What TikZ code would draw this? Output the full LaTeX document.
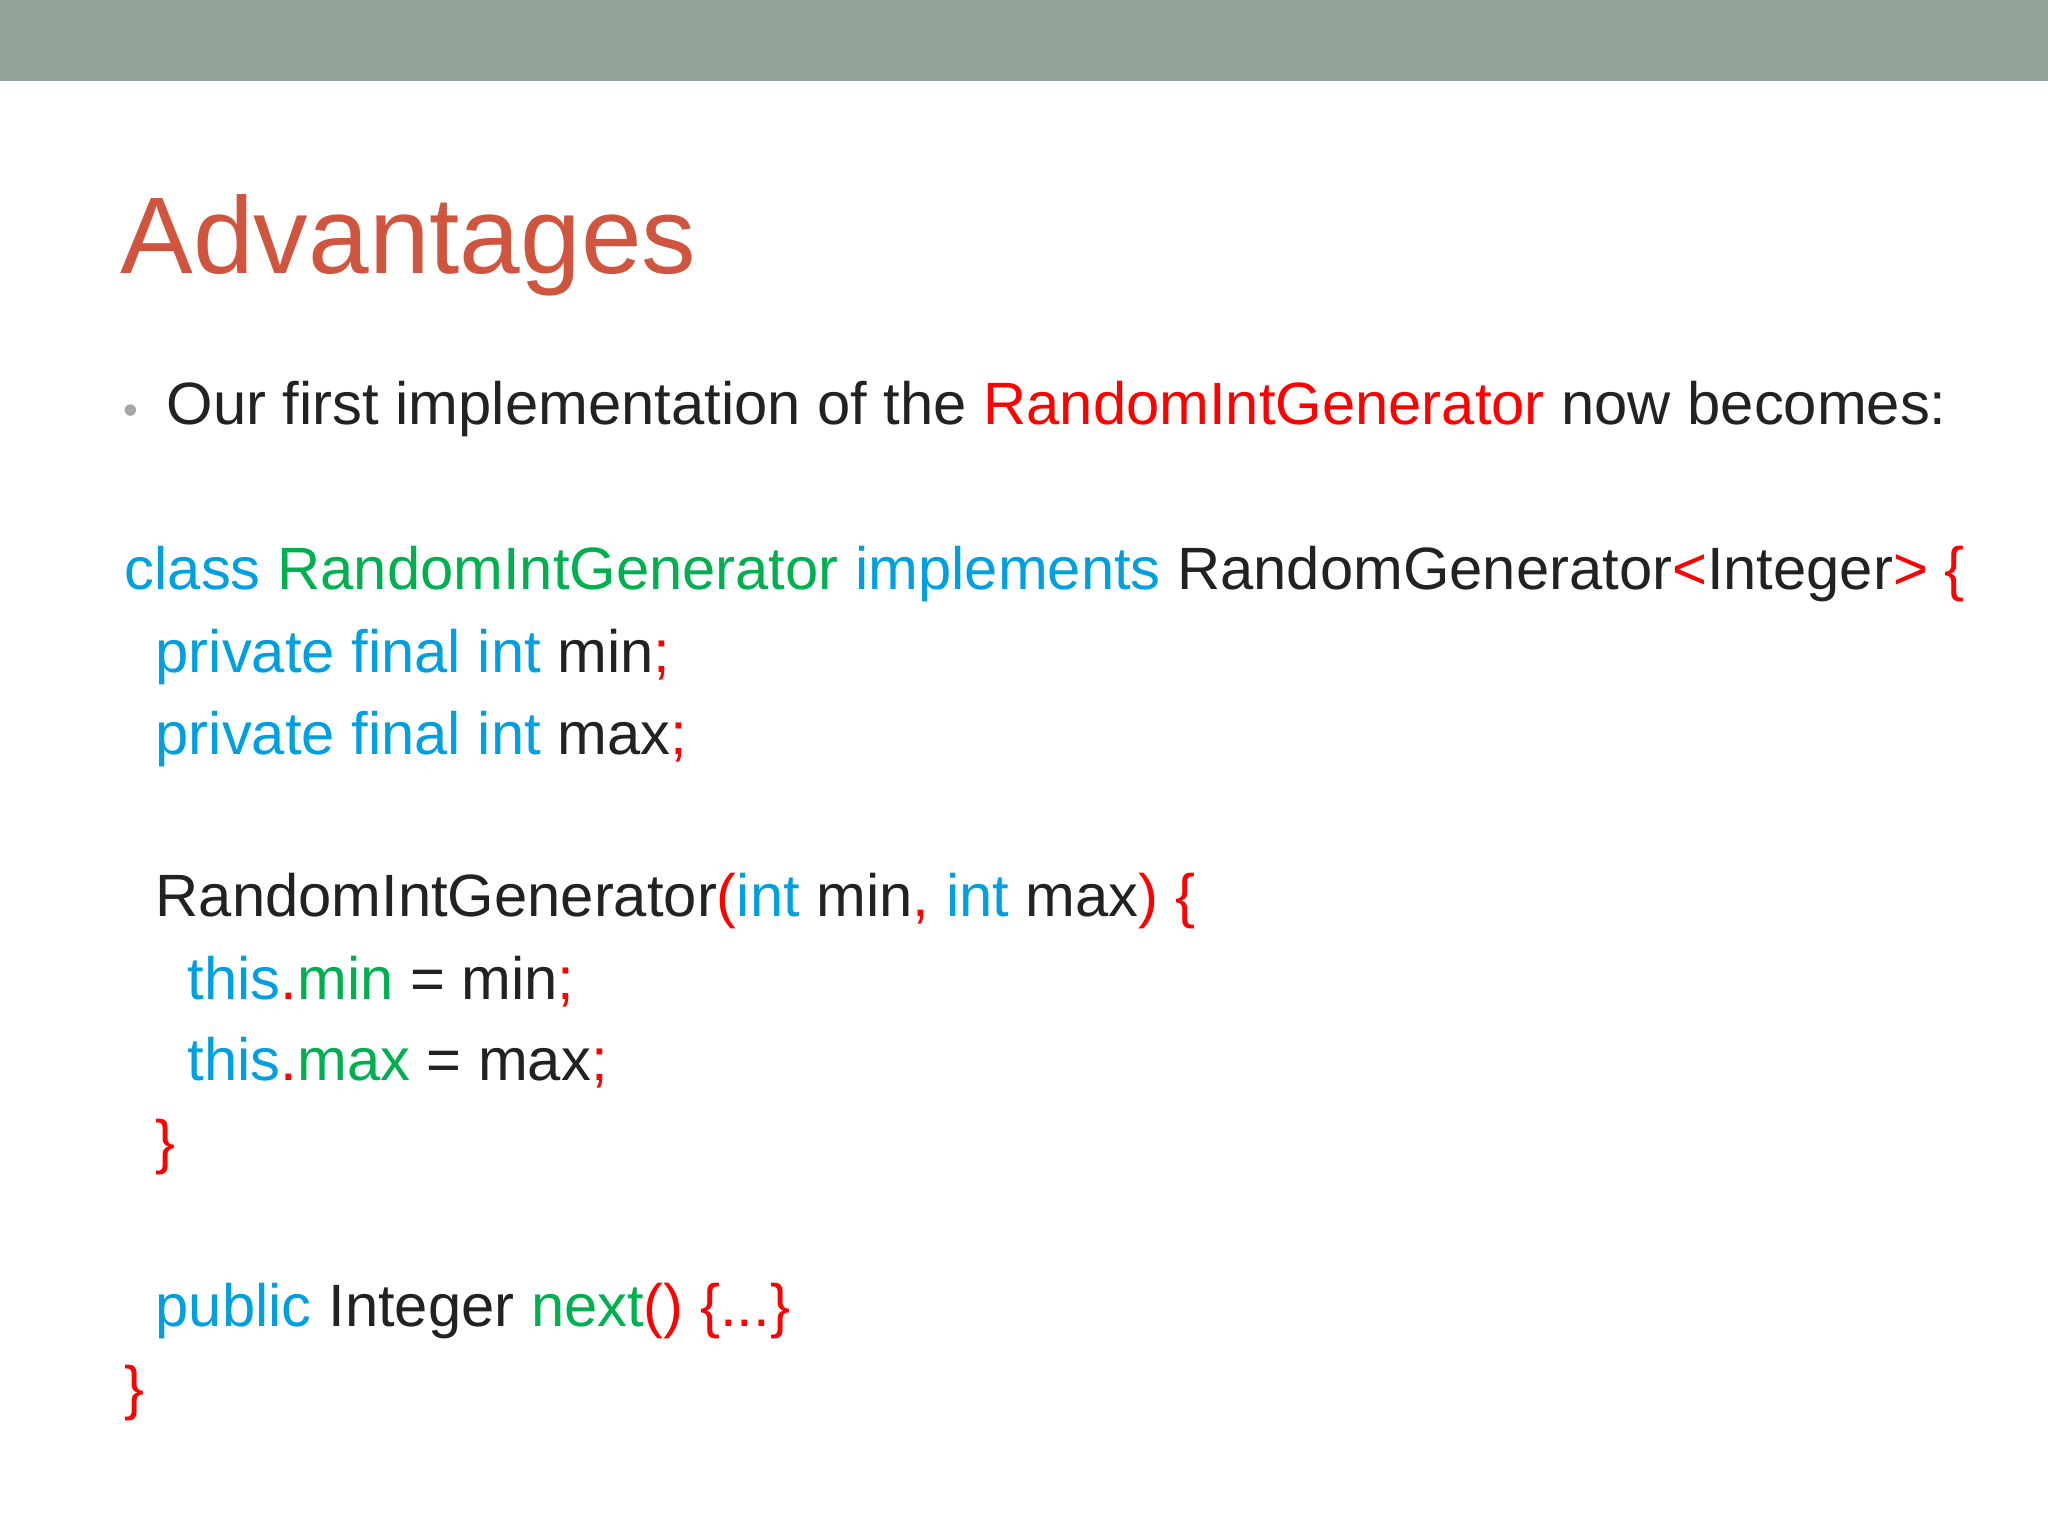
\documentclass[tikz,border=0pt]{standalone}
\usepackage{fontspec}
\setmainfont{Liberation Sans}
\definecolor{barcol}{HTML}{92A39A}
\definecolor{titlecol}{HTML}{D0553F}
\definecolor{kw}{HTML}{00A0E0}
\definecolor{idg}{HTML}{00B050}
\definecolor{pun}{HTML}{FF0000}
\definecolor{txt}{HTML}{222222}
\newcommand{\K}[1]{\textcolor{kw}{#1}}
\newcommand{\G}[1]{\textcolor{idg}{#1}}
\newcommand{\R}[1]{\textcolor{pun}{#1}}
\begin{document}
\begin{tikzpicture}[code line/.style={anchor=base west,inner sep=0pt,font=\fontsize{17}{20}\selectfont,text=txt}]
\useasboundingbox (0,0) rectangle (20.48,-15.36);
\fill[white] (0,0) rectangle (20.48,-15.36);
\fill[barcol] (0,0) rectangle (20.48,-0.81);
\node[anchor=base west,inner sep=0pt,text=titlecol,font=\fontsize{31}{36}\selectfont] (title) at (1.20,-2.74) {Advantages};
\node[anchor=base,inner sep=0pt,text=gray!70,font=\fontsize{12}{14}\selectfont] (dot) at (1.31,-4.24) {•};
\node[code line] (intro) at (1.66,-4.24) {Our first implementation of the \R{RandomIntGenerator} now becomes:};
\node[code line] (l1) at (1.24,-5.90) {\K{class} \G{RandomIntGenerator} \K{implements} RandomGenerator\R{<}Integer\R{> \{}};
\node[code line] (l2) at (1.55,-6.72) {\K{private final int} min\R{;}};
\node[code line] (l3) at (1.55,-7.54) {\K{private final int} max\R{;}};
\node[code line] (l4) at (1.55,-9.17) {RandomIntGenerator\R{(}\K{int} min\R{,} \K{int} max\R{) \{}};
\node[code line] (l5) at (1.87,-9.99) {\K{this}\R{.}\G{min} = min\R{;}};
\node[code line] (l6) at (1.87,-10.80) {\K{this}\R{.}\G{max} = max\R{;}};
\node[code line] (l7) at (1.55,-11.62) {\R{\}}};
\node[code line] (l8) at (1.55,-13.26) {\K{public} Integer \G{next}\R{() \{...\}}};
\node[code line] (l9) at (1.24,-14.08) {\R{\}}};
\end{tikzpicture}
\end{document}
